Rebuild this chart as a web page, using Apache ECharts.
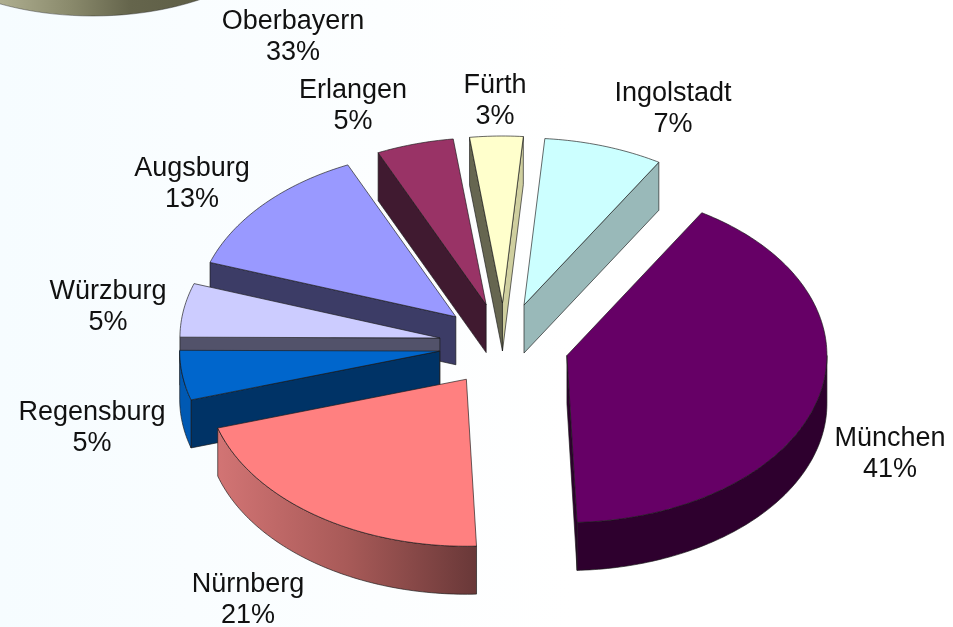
<!DOCTYPE html>
<html>
<head>
<meta charset="utf-8">
<title>Oberbayern</title>
<style>
  html, body { margin: 0; padding: 0; background: #fff; }
  #main { width: 953px; height: 627px; }
</style>
<script src="https://cdn.jsdelivr.net/npm/echarts@6/dist/echarts.min.js"></script>
</head>
<body>
<div id="main"></div>
<script>
// values, clockwise from the top (labels show them rounded)
var cities = ['Ingolstadt', 'München', 'Nürnberg', 'Regensburg', 'Würzburg', 'Augsburg', 'Erlangen', 'Fürth'];
var shares = [7.4, 40.7, 20.9, 4.8, 5.2, 12.9, 4.8, 3.3];
var parentLabel = 'Oberbayern';
var parentShare = 33;

// colours of the faces, same order as cities
var topColors = ['#ccffff', '#660066', '#ff8080', '#0066cc', '#ccccff', '#9999ff', '#993366', '#ffffcc'];
var startFaces = ['#99b9b9', '#2e002e', '#6b3a3a', '#003366', '#52526a', '#3c3c66', '#401a30', '#666650'];
var endFaces = ['#99b9b9', '#2e002e', '#6b3a3a', '#003366', '#52526a', '#3c3c66', '#401a30', '#cfcf9f'];
var arcFaces = ['#99b9b9', '#2e002e', null, '#0059b3', '#52526a', '#3c3c66', '#401a30', '#cfcf9f'];

// label centres
var labelSpots = [[673, 109], [890, 454], [248, 600], [92, 428], [108, 307], [192, 184], [353, 106], [495, 101]];

// pie layout
var cx = 504, cy = 345;     // centre before explode
var rx = 260, ry = 167;     // top ellipse
var depth = 48;
var explodeX = 65, explodeY = 42;
var startDeg = 4.6;
var rad = Math.PI / 180;

var total = 0;
shares.forEach(function (v) { total += v; });

// angles + apex of each slice
var slices = [];
var acc = startDeg;
cities.forEach(function (name, i) {
    var span = shares[i] / total * 360;
    var mid = acc + span / 2;
    slices.push({
        index: i,
        from: acc,
        to: acc + span,
        mid: mid,
        ax: cx + explodeX * Math.sin(mid * rad),
        ay: cy - explodeY * Math.cos(mid * rad)
    });
    acc += span;
});

// draw from back to front
var drawOrder = slices.slice().sort(function (a, b) { return a.ay - b.ay; });

function rimPoint(s, deg, drop) {
    return [s.ax + rx * Math.sin(deg * rad), s.ay - ry * Math.cos(deg * rad) + drop];
}

function arcPoints(s, from, to, drop) {
    var pts = [];
    for (var d = from; d < to; d += 1) {
        pts.push(rimPoint(s, d, drop));
    }
    pts.push(rimPoint(s, to, drop));
    return pts;
}

var edge = 'rgba(25,25,25,0.65)';

function face(points, fill) {
    return {
        type: 'polygon',
        shape: { points: points },
        style: { fill: fill, stroke: edge, lineWidth: 1 }
    };
}

// a radial cut shows only if its outward normal points down the screen
function cutVisible(s, deg) {
    var p = rimPoint(s, deg, 0), m = rimPoint(s, s.mid, 0);
    var ex = p[0] - s.ax, ey = p[1] - s.ay;
    var nx = ey, ny = -ex;
    if (nx * (m[0] - s.ax) + ny * (m[1] - s.ay) > 0) {
        ny = -ny;
    }
    return ny > -0.5;
}

function cutFace(s, deg, fill) {
    var p = rimPoint(s, deg, 0);
    return face([[s.ax, s.ay], p, [p[0], p[1] + depth], [s.ax, s.ay + depth]], fill);
}

function renderSlice(params, api) {
    var s = drawOrder[params.dataIndex];
    var i = s.index;
    var kids = [];

    if (cutVisible(s, s.from)) {
        kids.push(cutFace(s, s.from, startFaces[i]));
    }
    if (cutVisible(s, s.to)) {
        kids.push(cutFace(s, s.to, endFaces[i]));
    }

    // rim, visible on the lower half of the ellipse
    var lo = Math.max(s.from, 90), hi = Math.min(s.to, 270);
    if (lo < hi) {
        var upper = arcPoints(s, lo, hi, 0);
        var lower = arcPoints(s, lo, hi, depth).reverse();
        var fill = arcFaces[i];
        if (!fill) {
            var x0 = rimPoint(s, hi, 0)[0], x1 = rimPoint(s, lo, 0)[0];
            fill = new echarts.graphic.LinearGradient(x0, 0, x1, 0, [
                { offset: 0, color: '#d27474' },
                { offset: 0.5, color: '#a85a58' },
                { offset: 1, color: '#693838' }
            ], true);
        }
        kids.push(face(upper.concat(lower), fill));
    }

    // top
    kids.push(face([[s.ax, s.ay]].concat(arcPoints(s, s.from, s.to, 0)), topColors[i]));

    return { type: 'group', children: kids };
}

var labelFont = '27px "Liberation Sans", Arial, sans-serif';

function labelItem(text, x, y) {
    return {
        type: 'text',
        x: x,
        y: y,
        silent: true,
        style: {
            text: text,
            fill: '#111',
            font: labelFont,
            lineHeight: 31,
            align: 'center',
            verticalAlign: 'middle'
        }
    };
}

var labels = cities.map(function (name, i) {
    return labelItem(name + '\n' + Math.round(shares[i]) + '%', labelSpots[i][0], labelSpots[i][1]);
});
labels.push(labelItem(parentLabel + '\n' + parentShare + '%', 293, 37));

// bottom of the parent pie, cut off by the top of the picture
var parentRim = {
    type: 'ellipse',
    silent: true,
    shape: { cx: 93, cy: -90, rx: 200, ry: 106 },
    style: {
        fill: new echarts.graphic.LinearGradient(0, 0, 200, 0, [
            { offset: 0, color: '#aeae90' },
            { offset: 0.35, color: '#8a8a6c' },
            { offset: 0.65, color: '#65654c' },
            { offset: 1, color: '#5e5e46' }
        ], true),
        stroke: 'rgba(25,25,25,0.4)',
        lineWidth: 1
    }
};

var chart = echarts.init(document.getElementById('main'));

var option = {
    animation: false,
    backgroundColor: {
        type: 'linear', x: 0, y: 0, x2: 1, y2: 0,
        colorStops: [
            { offset: 0, color: '#f6fcff' },
            { offset: 0.6, color: '#ffffff' },
            { offset: 1, color: '#ffffff' }
        ]
    },
    graphic: [parentRim].concat(labels),
    series: [{
        type: 'custom',
        coordinateSystem: 'none',
        silent: true,
        renderItem: renderSlice,
        data: drawOrder.map(function (s) { return shares[s.index]; })
    }]
};

chart.setOption(option);
</script>
</body>
</html>
